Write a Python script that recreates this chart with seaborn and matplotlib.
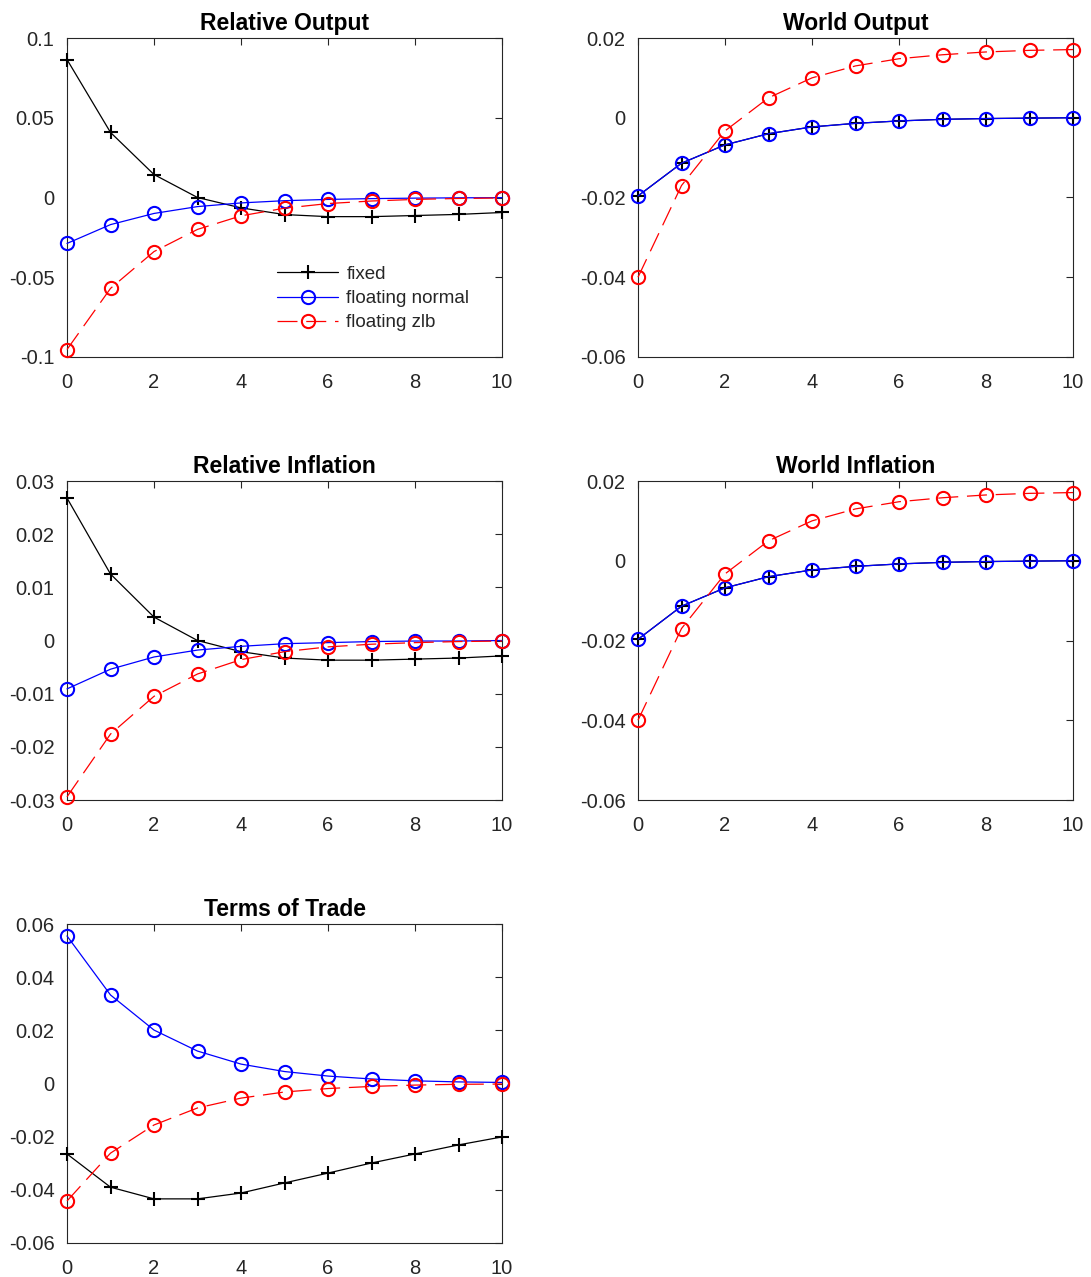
import numpy as np
import pandas as pd
import matplotlib
matplotlib.use("Agg")
import matplotlib.pyplot as plt
import seaborn as sns

sns.set_style("white")
plt.rcParams['font.family'] = ['Liberation Sans', 'DejaVu Sans']

t = list(range(11))

# Relative Output
ro_fixed = [0.0865, 0.0408, 0.0144, 0.0000, -0.0065, -0.0107, -0.0120, -0.0120, -0.0113, -0.0106, -0.0094]
ro_normal = [-0.0288, -0.0170, -0.0100, -0.0057, -0.0034, -0.0020, -0.0012, -0.0007, -0.0004, -0.0002, -0.0001]
ro_zlb = [-0.0953, -0.0570, -0.0339, -0.0200, -0.0115, -0.0067, -0.0038, -0.0022, -0.0012, -0.0006, -0.0003]

# World Output
wo_fixed = [-0.0196, -0.0114, -0.0068, -0.0040, -0.0023, -0.0014, -0.0008, -0.0004, -0.0002, -0.0001, 0.0000]
wo_normal = [-0.0196, -0.0114, -0.0068, -0.0040, -0.0023, -0.0014, -0.0008, -0.0004, -0.0002, -0.0001, 0.0000]
wo_zlb = [-0.0400, -0.0170, -0.0033, 0.0050, 0.0100, 0.0130, 0.0148, 0.0158, 0.0165, 0.0169, 0.0171]

# Relative Inflation
ri_fixed = [0.0268, 0.0125, 0.0044, 0.0000, -0.0021, -0.0033, -0.0037, -0.0037, -0.0035, -0.0033, -0.0029]
ri_normal = [-0.0091, -0.0054, -0.0031, -0.0018, -0.0011, -0.0006, -0.0004, -0.0002, -0.0001, -0.0001, 0.0000]
ri_zlb = [-0.0294, -0.0176, -0.0105, -0.0063, -0.0036, -0.0021, -0.0012, -0.0007, -0.0004, -0.0002, -0.0001]

# World Inflation
wi_fixed = [-0.0197, -0.0114, -0.0068, -0.0040, -0.0023, -0.0014, -0.0008, -0.0004, -0.0002, -0.0001, 0.0000]
wi_normal = [-0.0197, -0.0114, -0.0068, -0.0040, -0.0023, -0.0014, -0.0008, -0.0004, -0.0002, -0.0001, 0.0000]
wi_zlb = [-0.0400, -0.0170, -0.0033, 0.0050, 0.0100, 0.0130, 0.0148, 0.0158, 0.0165, 0.0169, 0.0171]

# Terms of Trade
tot_fixed = [-0.0265, -0.0390, -0.0434, -0.0434, -0.0412, -0.0374, -0.0337, -0.0299, -0.0265, -0.0231, -0.0201]
tot_normal = [0.0555, 0.0333, 0.0201, 0.0122, 0.0073, 0.0045, 0.0028, 0.0017, 0.0010, 0.0006, 0.0004]
tot_zlb = [-0.0442, -0.0262, -0.0156, -0.0092, -0.0055, -0.0032, -0.0019, -0.0011, -0.0006, -0.0003, -0.0002]

titles = ["Relative Output", "World Output", "Relative Inflation", "World Inflation", "Terms of Trade"]
series_names = ["fixed", "floating normal", "floating zlb"]
data = [
    (ro_fixed, ro_normal, ro_zlb),
    (wo_fixed, wo_normal, wo_zlb),
    (ri_fixed, ri_normal, ri_zlb),
    (wi_fixed, wi_normal, wi_zlb),
    (tot_fixed, tot_normal, tot_zlb),
]
yticks = [
    [-0.1, -0.05, 0, 0.05, 0.1],
    [-0.06, -0.04, -0.02, 0, 0.02],
    [-0.03, -0.02, -0.01, 0, 0.01, 0.02, 0.03],
    [-0.06, -0.04, -0.02, 0, 0.02],
    [-0.06, -0.04, -0.02, 0, 0.02, 0.04, 0.06],
]
ytick_labels = [
    ["-0.1", "-0.05", "0", "0.05", "0.1"],
    ["-0.06", "-0.04", "-0.02", "0", "0.02"],
    ["-0.03", "-0.02", "-0.01", "0", "0.01", "0.02", "0.03"],
    ["-0.06", "-0.04", "-0.02", "0", "0.02"],
    ["-0.06", "-0.04", "-0.02", "0", "0.02", "0.04", "0.06"],
]
xticks = [0, 2, 4, 6, 8, 10]
xtick_labels = ["0", "2", "4", "6", "8", "10"]

W, H = 1091, 1277
fig = plt.figure(figsize=(W / 100, H / 100), dpi=100)
fig.patch.set_facecolor("white")

col_x = [67, 638]
row_y = [38, 481, 924]
aw, ah = 435, 319
positions = [(col_x[0], row_y[0]), (col_x[1], row_y[0]),
             (col_x[0], row_y[1]), (col_x[1], row_y[1]),
             (col_x[0], row_y[2])]

axcol = "#262626"
for i, (px, py) in enumerate(positions):
    ax = fig.add_axes([px / W, 1 - (py + ah) / H, aw / W, ah / H])
    fx, fn, fz = data[i]
    sns.lineplot(x=t, y=fx, ax=ax, color="black", marker="+", markersize=10,
                 markeredgecolor="black", markeredgewidth=1.5, linewidth=0.9,
                 label=series_names[0], clip_on=False, zorder=3)
    sns.lineplot(x=t, y=fn, ax=ax, color="blue", marker="o", markersize=9.5,
                 markerfacecolor="none", markeredgecolor="blue", markeredgewidth=1.5,
                 linewidth=0.9, label=series_names[1], clip_on=False, zorder=3)
    sns.lineplot(x=t, y=fz, ax=ax, color="red", marker="o", markersize=9.5,
                 markerfacecolor="none", markeredgecolor="red", markeredgewidth=1.5,
                 linewidth=0.9, linestyle=(0, (16, 7)), label=series_names[2],
                 clip_on=False, zorder=3)
    ax.set_xlim(0, 10)
    yt = yticks[i]
    ax.set_ylim(yt[0], yt[-1])
    ax.set_yticks(yt)
    ax.set_yticklabels(ytick_labels[i])
    ax.set_xticks(xticks)
    ax.set_xticklabels(xtick_labels)
    ax.tick_params(axis="both", direction="in", length=5, width=0.8, colors=axcol,
                   labelsize=14.5, top=True, right=True, labelcolor=axcol)
    ax.tick_params(axis="x", pad=11.5)
    ax.tick_params(axis="y", pad=9)
    for sp in ax.spines.values():
        sp.set_visible(True)
        sp.set_color(axcol)
        sp.set_linewidth(0.8)
        sp.set_zorder(2)
    ax.set_title(titles[i], fontsize=16.5, fontweight="bold", color="black", pad=6)
    ax.set_xlabel("")
    ax.set_ylabel("")
    if i == 0:
        ax.legend(loc="upper left", bbox_to_anchor=(0.483, 0.286), frameon=False,
                  fontsize=13.5, handlelength=3.25, handletextpad=0.45,
                  labelspacing=0.38, borderaxespad=0, borderpad=0)
    else:
        leg = ax.get_legend()
        if leg is not None:
            leg.remove()

fig.savefig("out.png", dpi=100, facecolor="white")
